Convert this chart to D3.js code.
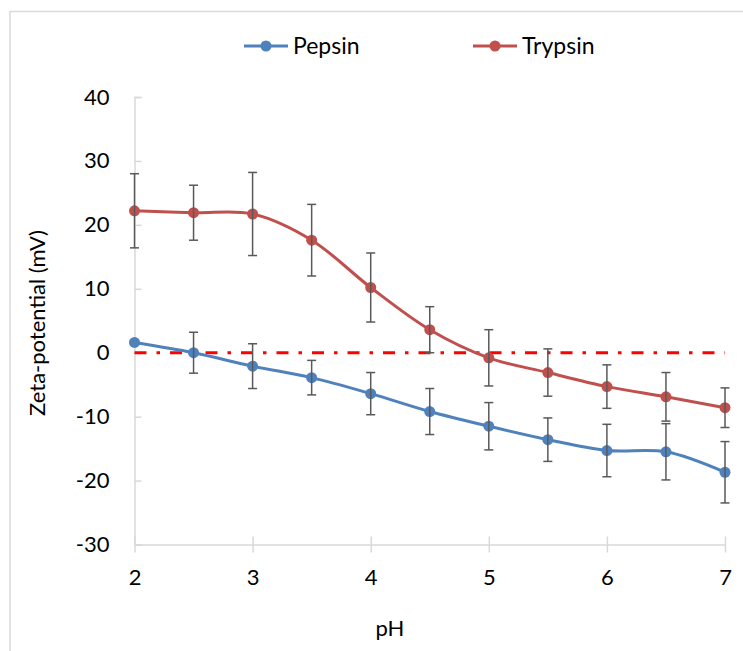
<!DOCTYPE html>
<html>
<head>
<meta charset="utf-8">
<script src="https://cdn.jsdelivr.net/npm/d3@7"></script>
<style>
  body { margin: 0; background: #fff; }
  text { font-family: Lato, "Liberation Sans", sans-serif; fill: #000; }
</style>
</head>
<body>
<div id="chart"></div>
<script>
// Data
var ph = [2, 2.5, 3, 3.5, 4, 4.5, 5, 5.5, 6, 6.5, 7];
var pepsin = [1.6, 0.0, -2.1, -3.9, -6.4, -9.2, -11.5, -13.6, -15.3, -15.5, -18.7];
var pepsinErr = [0, 3.2, 3.5, 2.7, 3.3, 3.6, 3.7, 3.4, 4.1, 4.4, 4.8];
var trypsin = [22.2, 21.9, 21.7, 17.6, 10.2, 3.6, -0.8, -3.1, -5.3, -6.9, -8.6];
var trypsinErr = [5.8, 4.3, 6.5, 5.6, 5.4, 3.6, 4.4, 3.7, 3.4, 3.8, 3.1];
var xTicks = [2, 3, 4, 5, 6, 7];
var yTicks = [-30, -20, -10, 0, 10, 20, 30, 40];

function drawChart() {
    d3.select("#chart").select("svg").remove();

    var W = 743, H = 651;
    var svg = d3.select("#chart").append("svg")
        .attr("width", W)
        .attr("height", H);

    // Chart area border (cut off at right and bottom)
    svg.append("rect")
        .attr("x", 10).attr("y", 11.5)
        .attr("width", 760).attr("height", 700)
        .attr("fill", "none")
        .attr("stroke", "#d9d9d9")
        .attr("stroke-width", 1.5);

    // Scales
    var x = d3.scaleLinear().domain([2, 7]).range([134.5, 725]);
    var y = d3.scaleLinear().domain([-30, 40]).range([544.5, 97]);

    var axisColor = "#d9d9d9";
    var fmt = d => String(d);

    // Y axis (ticks point inward)
    var yAxis = svg.append("g")
        .attr("transform", "translate(134.5,0)")
        .call(d3.axisLeft(y).tickValues(yTicks).tickFormat(fmt).tickSize(-7).tickPadding(25));
    yAxis.select(".domain").attr("stroke", axisColor).attr("stroke-width", 1.5);
    yAxis.selectAll(".tick line").attr("stroke", axisColor).attr("stroke-width", 1.5);
    yAxis.selectAll(".tick text")
        .style("font-size", "22px")
        .style("font-family", "Lato, sans-serif")
        .attr("fill", "#000");

    // X axis (ticks cross the axis)
    var xAxis = svg.append("g")
        .attr("transform", "translate(0,544.5)")
        .call(d3.axisBottom(x).tickValues(xTicks).tickFormat(fmt).tickSize(0).tickPadding(25));
    xAxis.select(".domain").attr("stroke", axisColor).attr("stroke-width", 1.5);
    xAxis.selectAll(".tick").append("line")
        .attr("y1", -8).attr("y2", 8)
        .attr("stroke", axisColor).attr("stroke-width", 1.5);
    xAxis.selectAll(".tick text")
        .style("font-size", "22px")
        .style("font-family", "Lato, sans-serif")
        .attr("fill", "#000");

    // Axis titles
    svg.append("text")
        .attr("x", 390).attr("y", 636)
        .attr("text-anchor", "middle")
        .style("font-size", "22px")
        .text("pH");
    svg.append("text")
        .attr("transform", "translate(45,323) rotate(-90)")
        .attr("text-anchor", "middle")
        .style("font-size", "22px")
        .text("Zeta-potential (mV)");

    // Zero reference line (dash-dot)
    svg.append("line")
        .attr("x1", x(2)).attr("x2", x(7))
        .attr("y1", y(0)).attr("y2", y(0))
        .attr("stroke", "#ff0000")
        .attr("stroke-width", 3)
        .attr("stroke-dasharray", "12,10,3.5,10");

    var series = [
        { name: "Pepsin", values: pepsin, err: pepsinErr, color: "#4f81bd" },
        { name: "Trypsin", values: trypsin, err: trypsinErr, color: "#c0504d" }
    ];

    var line = d3.line()
        .x(d => x(d.ph))
        .y(d => y(d.v))
        .curve(d3.curveCatmullRom.alpha(0.5));

    series.forEach(function (s) {
        var pts = ph.map(function (p, i) { return { ph: p, v: s.values[i], e: s.err[i] }; });

        svg.append("path")
            .datum(pts)
            .attr("fill", "none")
            .attr("stroke", s.color)
            .attr("stroke-width", 3)
            .attr("d", line);

        svg.append("g").selectAll("circle")
            .data(pts)
            .enter().append("circle")
            .attr("cx", d => x(d.ph))
            .attr("cy", d => y(d.v))
            .attr("r", 5.5)
            .attr("fill", s.color);
    });

    // Error bars drawn on top
    series.forEach(function (s) {
        var pts = ph.map(function (p, i) { return { ph: p, v: s.values[i], e: s.err[i] }; })
            .filter(d => d.e > 0);
        var g = svg.append("g")
            .attr("stroke", "#595959")
            .attr("stroke-width", 1.5);
        g.selectAll(".v").data(pts).enter().append("line")
            .attr("x1", d => x(d.ph)).attr("x2", d => x(d.ph))
            .attr("y1", d => y(d.v + d.e)).attr("y2", d => y(d.v - d.e));
        g.selectAll(".t").data(pts).enter().append("line")
            .attr("x1", d => x(d.ph) - 4.5).attr("x2", d => x(d.ph) + 4.5)
            .attr("y1", d => y(d.v + d.e)).attr("y2", d => y(d.v + d.e));
        g.selectAll(".b").data(pts).enter().append("line")
            .attr("x1", d => x(d.ph) - 4.5).attr("x2", d => x(d.ph) + 4.5)
            .attr("y1", d => y(d.v - d.e)).attr("y2", d => y(d.v - d.e));
    });

    // Legend
    var legend = svg.append("g");
    var legendX = [244, 473];
    series.forEach(function (s, i) {
        var lg = legend.append("g").attr("transform", `translate(${legendX[i]},46)`);
        lg.append("line")
            .attr("x1", 0).attr("x2", 44)
            .attr("stroke", s.color).attr("stroke-width", 3);
        lg.append("circle")
            .attr("cx", 22).attr("r", 5.5).attr("fill", s.color);
        lg.append("text")
            .attr("x", 49).attr("y", 8)
            .style("font-size", "23px")
            .text(s.name);
    });
}

document.addEventListener('DOMContentLoaded', drawChart);
</script>
</body>
</html>
